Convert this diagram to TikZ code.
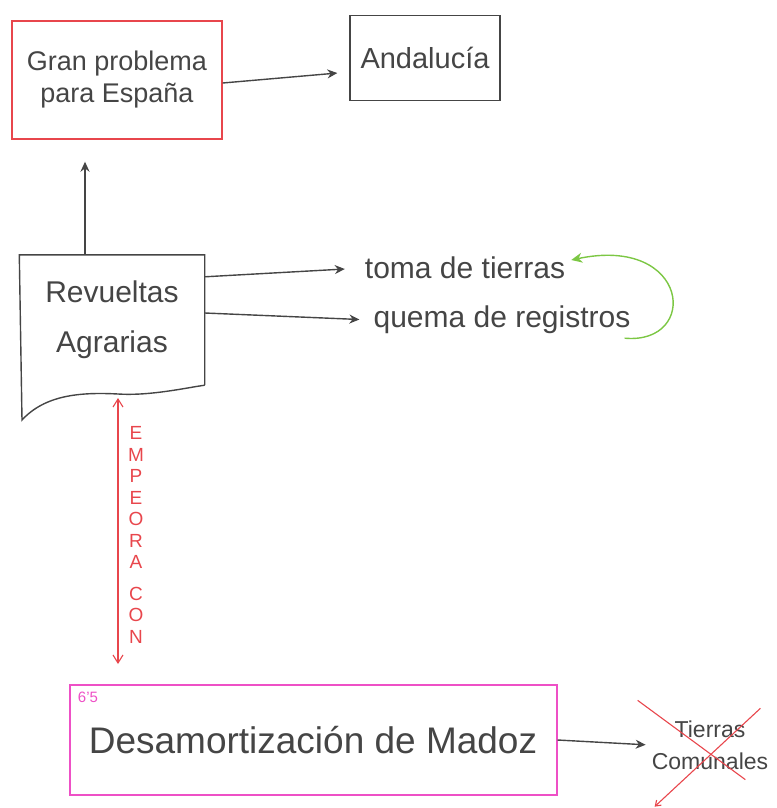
\documentclass[tikz,border=0pt]{standalone}
\usepackage{fontspec}
\setmainfont{Liberation Sans}
\usetikzlibrary{arrows.meta,positioning,calc}
\definecolor{skInk}{HTML}{454545}
\definecolor{skRed}{HTML}{E8464C}
\definecolor{skPink}{HTML}{EE50C6}
\definecolor{skGreen}{HTML}{7CC744}
\tikzset{
  skbox/.style={draw=skInk,line width=1.4pt,align=center,text=skInk,inner sep=4pt},
  skred/.style={skbox,draw=skRed},
  skpink/.style={skbox,draw=skPink,line width=2pt},
  sktxt/.style={text=skInk,align=center,inner sep=2pt},
  skflow/.style={-{Stealth[length=10pt,width=9pt]},draw=skInk,line width=1.4pt},
  skcross/.style={draw=skRed,line width=1.1pt},
}
\begin{document}
\begin{tikzpicture}[x=1pt,y=-1pt]
  \useasboundingbox (0,0) rectangle (776,808);
  \node[skred,minimum width=210pt,minimum height=118pt,font=\fontsize{27}{32}\selectfont] (gran) at (117,80) {Gran problema\\para España};
  \node[skbox,minimum width=150pt,minimum height=85pt,font=\fontsize{29}{32}\selectfont] (anda) at (425,58) {Andalucía};
  \node[sktxt,minimum width=185pt,minimum height=130pt,font=\fontsize{30}{50}\selectfont] (rev) at (112,320) {Revueltas\\Agrarias};
  \draw[skInk,line width=1.4pt] (rev.south east) -- (rev.north east) -- (rev.north west) -- (22,420)
    .. controls (45,395) and (80,392) .. (118,394) .. controls (150,396) and (185,388) .. (rev.south east);
  \node[sktxt,font=\fontsize{30}{32}\selectfont] (toma) at (465,268) {toma de tierras};
  \node[sktxt,font=\fontsize{30}{32}\selectfont] (quema) at (502,320) {quema de registros};
  \node[skpink,minimum width=487pt,minimum height=110pt,font=\fontsize{37}{40}\selectfont] (desa) at (313,740) {Desamortización de Madoz};
  \node[text=skPink,font=\fontsize{15}{15}\selectfont,inner sep=0pt] (year) at (88,697) {6'5};
  \node[sktxt,font=\fontsize{23}{32}\selectfont] (tierras) at (710,745) {Tierras\\Comunales};
  \node[text=skRed,align=center,inner sep=0pt,font=\fontsize{19}{21.5}\selectfont] (emp) at (136,535) {E\\M\\P\\E\\O\\R\\A\\[10pt]C\\O\\N};

  \draw[skflow,shorten >=12pt] ($(gran.east)+(0,3)$) -- ($(anda.west)+(0,14)$);
  \draw[skflow,shorten >=22pt] ($(rev.north)+(-27,0)$) -- ($(gran.south)+(-32,0)$);
  \draw[skflow,shorten >=18pt] ($(rev.north east)+(0,22)$) -- (toma.west);
  \draw[skflow,shorten >=12pt] ($(rev.east)+(0,-7)$) -- (quema.west);
  \draw[-{Stealth[length=11pt,width=10pt]},draw=skGreen,line width=1.4pt]
    ($(quema.south east)+(-8,2)$) .. controls (700,345) and (690,235) .. ($(toma.east)+(4,-8)$);
  \coordinate (revb) at (118,398);
  \draw[{Straight Barb[length=8pt,width=10pt]}-{Straight Barb[length=8pt,width=10pt]},draw=skRed,line width=1.1pt,shorten >=20pt]
    (revb) -- (revb |- desa.north);
  \draw[skflow,shorten >=4pt] (desa.east) -- (tierras.west);
  \draw[skcross] ($(tierras.north west)+(-12,-18)$) -- ($(tierras.south east)+(-25,8)$);
  \draw[skcross,-{Straight Barb[length=5pt,width=7pt]}] ($(tierras.north east)+(-10,-10)$) -- ($(tierras.south west)+(5,35)$);
\end{tikzpicture}
\end{document}
